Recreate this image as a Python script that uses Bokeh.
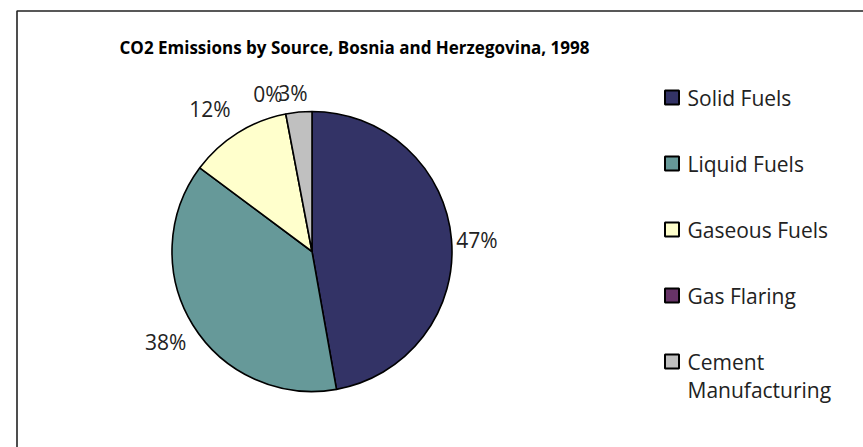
import math
from bokeh.plotting import figure
from bokeh.models import Range1d, ColumnDataSource
from bokeh.core.properties import value
from bokeh.embed import file_html
from bokeh.resources import INLINE

# ---- data ----
categories = ["Solid Fuels", "Liquid Fuels", "Gaseous Fuels", "Gas Flaring", "Cement Manufacturing"]
legend_labels = ["Solid Fuels", "Liquid Fuels", "Gaseous Fuels", "Gas Flaring", "Cement\nManufacturing"]
shares = [47.2, 38.0, 11.8, 0.0, 3.0]
colors = ["#333366", "#669999", "#FFFFCC", "#663366", "#C0C0C0"]
title_text = "CO2 Emissions by Source, Bosnia and Herzegovina, 1998"

# ---- layout ----
W, H = 863, 447
FONT = "Open Sans"
cx, cy, R = 311.5, 196.0, 140.0
label_nudge_x = [-6, 0, -13, -14, -4]
label_nudge_y = [-4, 0, 0, 0, 0]

p = figure(width=W, height=H, output_backend="svg", toolbar_location=None,
           x_range=Range1d(0, W), y_range=Range1d(0, H),
           x_axis_location=None, y_axis_location=None,
           min_border=0, outline_line_color=None)
p.grid.visible = False
p.background_fill_color = "white"
p.border_fill_color = "white"

# frame border (left and top visible, the rest off-canvas)
p.line([16.5, 16.5, W + 20], [-20, 436.5, 436.5], line_color="#222222", line_width=1.6)

total = sum(shares)
fracs = [s / total for s in shares]
starts, ends = [], []
cum = 0.0
for f in fracs:
    starts.append(math.pi / 2 - 2 * math.pi * (cum + f))
    ends.append(math.pi / 2 - 2 * math.pi * cum)
    cum += f

keep = [i for i, f in enumerate(fracs) if f > 0]
src = ColumnDataSource(dict(cat=[categories[i] for i in keep],
                            start=[starts[i] for i in keep],
                            end=[ends[i] for i in keep],
                            color=[colors[i] for i in keep]))
p.wedge(x=cx, y=cy, radius=R, start_angle="start", end_angle="end", source=src,
        fill_color="color", line_color="black", line_width=1.6, direction="anticlock")

# percentage labels
fs = 21
lx, ly, lt = [], [], []
cum = 0.0
for i, f in enumerate(fracs):
    mid = cum + f / 2
    cum += f
    ang = math.pi / 2 - 2 * math.pi * mid
    ux, uy = math.cos(ang), math.sin(ang)
    txt = "%d%%" % round(f * 100)
    w = 14.0 * len(txt)
    h = 16
    d = R + 10 + abs(ux) * w / 2 + abs(uy) * h / 2
    lx.append(cx + d * ux + label_nudge_x[i])
    ly.append(cy + d * uy + label_nudge_y[i])
    lt.append(txt)
p.text(x=lx, y=ly, text=lt, text_font=value(FONT), text_font_size="%dpx" % fs,
       text_color="#222222", text_align="center", text_baseline="middle")

# title
p.text(x=[354], y=[400], text=[title_text], text_font=value(FONT), text_font_size="17px",
       text_font_style="bold", text_color="black", text_align="center", text_baseline="middle")

# legend
leg_x0, leg_y0, leg_dy = 671.5, 350.0, 66.0
sq_x = [leg_x0] * len(categories)
sq_y = [leg_y0 - i * leg_dy for i in range(len(categories))]
p.rect(x=sq_x, y=sq_y, width=14, height=14, fill_color=colors, line_color="black", line_width=2)
p.text(x=[leg_x0 + 15.5] * len(categories), y=sq_y, text=legend_labels,
       text_font=value(FONT), text_font_size="21px", text_color="#222222",
       text_align="left", text_baseline="top", y_offset=-14, text_line_height=1.0)

open("out.html", "w").write(file_html(p, INLINE))
